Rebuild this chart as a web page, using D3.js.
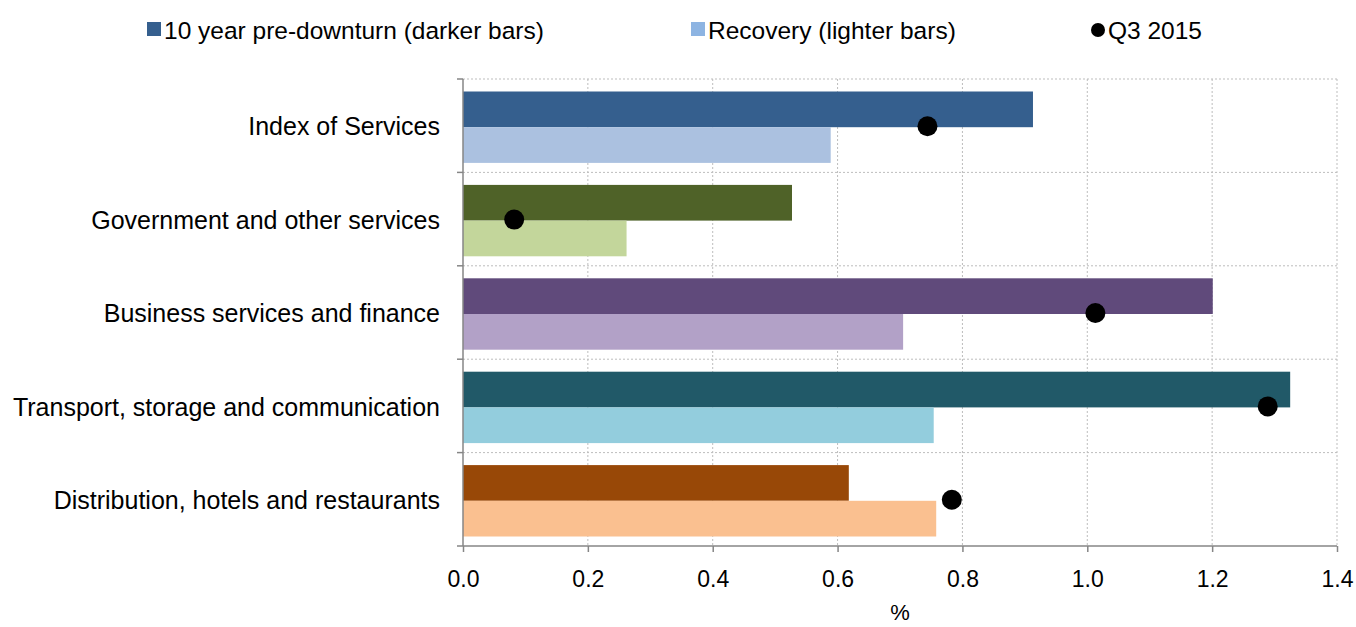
<!DOCTYPE html>
<html>
<head>
<meta charset="utf-8">
<script src="https://cdn.jsdelivr.net/npm/d3@7"></script>
<style>
  body { margin: 0; background: #fff; }
  svg { font-family: "Liberation Sans", Arial, sans-serif; }
</style>
</head>
<body>
<svg></svg>
<script>
const categories = [
  'Index of Services',
  'Government and other services',
  'Business services and finance',
  'Transport, storage and communication',
  'Distribution, hotels and restaurants'
];
const preDownturn = [0.913, 0.527, 1.201, 1.325, 0.618];
const recovery = [0.589, 0.262, 0.705, 0.754, 0.758];
const q3_2015 = [0.744, 0.082, 1.013, 1.289, 0.783];
const xTicks = [0, 0.2, 0.4, 0.6, 0.8, 1.0, 1.2, 1.4];

const darkColors = ['#355f8e', '#4f6228', '#604a7b', '#215968', '#984807'];
const lightColors = ['#abc1e0', '#c3d69b', '#b2a1c7', '#93cddd', '#fac090'];

const width = 1356, height = 627;
const margin = { top: 79, right: 19, bottom: 81, left: 463 };

const svg = d3.select('svg')
  .attr('width', width)
  .attr('height', height);

const x = d3.scaleLinear()
  .domain([0, 1.4])
  .range([margin.left, width - margin.right]);

const y = d3.scaleBand()
  .domain(categories)
  .range([margin.top, height - margin.bottom]);

const bw = y.bandwidth();
const ySeries = d3.scaleBand()
  .domain(['pre', 'rec'])
  .range([12.5, bw - 9.5]);

// gridlines
const grid = svg.append('g').attr('class', 'grid');
grid.selectAll('line.v')
  .data(xTicks.slice(1))
  .enter().append('line')
  .attr('x1', d => x(d)).attr('x2', d => x(d))
  .attr('y1', margin.top).attr('y2', height - margin.bottom)
  .attr('stroke', '#bdbdbd')
  .attr('stroke-dasharray', '2,2');

grid.selectAll('line.h')
  .data(categories)
  .enter().append('line')
  .attr('x1', margin.left).attr('x2', width - margin.right)
  .attr('y1', d => y(d)).attr('y2', d => y(d))
  .attr('stroke', '#bdbdbd')
  .attr('stroke-dasharray', '2,2');

// bars
const rows = categories.map((c, i) => ({ c, i }));
const groups = svg.append('g').attr('class', 'bars')
  .selectAll('g')
  .data(rows)
  .enter().append('g')
  .attr('transform', d => `translate(0,${y(d.c)})`);

groups.append('rect')
  .attr('x', x(0))
  .attr('y', ySeries('pre'))
  .attr('width', d => x(preDownturn[d.i]) - x(0))
  .attr('height', ySeries.bandwidth())
  .attr('fill', d => darkColors[d.i]);

groups.append('rect')
  .attr('x', x(0))
  .attr('y', ySeries('rec'))
  .attr('width', d => x(recovery[d.i]) - x(0))
  .attr('height', ySeries.bandwidth())
  .attr('fill', d => lightColors[d.i]);

// dots
svg.append('g').attr('class', 'dots')
  .selectAll('circle')
  .data(rows)
  .enter().append('circle')
  .attr('cx', d => x(q3_2015[d.i]))
  .attr('cy', d => y(d.c) + ySeries('rec') - 1)
  .attr('r', 10)
  .attr('fill', '#000');

// axes
const xAxis = svg.append('g')
  .attr('transform', `translate(0,${height - margin.bottom})`)
  .call(d3.axisBottom(x).tickValues(xTicks).tickFormat(d3.format('.1f')).tickSize(6).tickPadding(19));
xAxis.select('.domain').attr('stroke', '#868686').attr('stroke-width', 1.5)
  .attr('d', `M${x(0)},0H${x(1.4)}`);
xAxis.selectAll('.tick line').attr('stroke', '#868686').attr('stroke-width', 1.5);
xAxis.selectAll('.tick text').attr('font-size', 23).attr('fill', '#000')
  .attr('font-family', '"Liberation Sans", Arial, sans-serif');

const yAxis = svg.append('g')
  .attr('transform', `translate(${margin.left},0)`);
yAxis.append('line')
  .attr('x1', 0).attr('x2', 0)
  .attr('y1', margin.top).attr('y2', height - margin.bottom)
  .attr('stroke', '#868686').attr('stroke-width', 1.5);
yAxis.selectAll('line.tk')
  .data(categories.concat(['end']))
  .enter().append('line')
  .attr('x1', -6).attr('x2', 0)
  .attr('y1', (d, i) => margin.top + i * bw)
  .attr('y2', (d, i) => margin.top + i * bw)
  .attr('stroke', '#868686').attr('stroke-width', 1.5);
yAxis.selectAll('text')
  .data(categories)
  .enter().append('text')
  .attr('x', -23)
  .attr('y', d => y(d) + bw / 2 + 1)
  .attr('dy', '0.35em')
  .attr('text-anchor', 'end')
  .attr('font-size', 25)
  .attr('fill', '#000')
  .text(d => d);

// axis title
svg.append('text')
  .attr('x', x(0.7))
  .attr('y', 620)
  .attr('text-anchor', 'middle')
  .attr('font-size', 22)
  .text('%');

// legend
const legend = svg.append('g').attr('class', 'legend');
const legendItems = [
  { label: '10 year pre-downturn (darker bars)', color: '#355f8e', type: 'rect', x: 147 },
  { label: 'Recovery (lighter bars)', color: '#8db4e2', type: 'rect', x: 691 },
  { label: 'Q3 2015', color: '#000', type: 'dot', x: 1091 }
];
legendItems.forEach(d => {
  if (d.type === 'rect') {
    legend.append('rect')
      .attr('x', d.x).attr('y', 22).attr('width', 14).attr('height', 14)
      .attr('fill', d.color);
  } else {
    legend.append('circle')
      .attr('cx', d.x + 7).attr('cy', 30).attr('r', 7)
      .attr('fill', d.color);
  }
  legend.append('text')
    .attr('x', d.x + 17)
    .attr('y', 30)
    .attr('dy', '0.35em')
    .attr('font-size', 24.5)
    .text(d.label);
});
</script>
</body>
</html>
